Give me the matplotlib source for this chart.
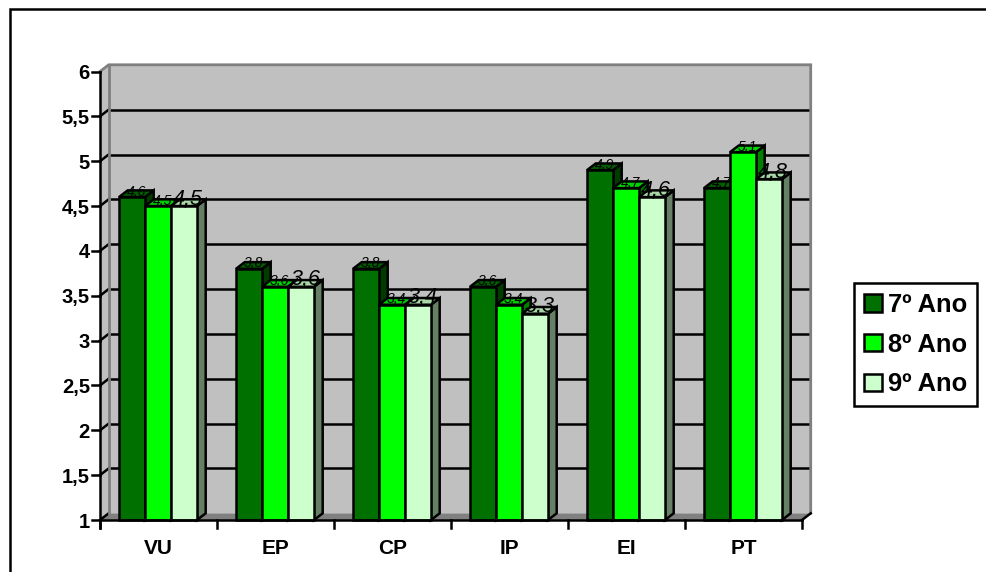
import matplotlib
matplotlib.use('Agg')
import matplotlib.pyplot as plt
import matplotlib.patches as patches

plt.rcParams['font.family'] = ['Liberation Sans', 'DejaVu Sans']

W, H = 987, 572

categories = ['VU', 'EP', 'CP', 'IP', 'EI', 'PT']
series_names = ['7º Ano', '8º Ano', '9º Ano']
ano7 = [4.6, 3.8, 3.8, 3.6, 4.9, 4.7]
ano8 = [4.5, 3.6, 3.4, 3.4, 4.7, 5.1]
ano9 = [4.5, 3.6, 3.4, 3.3, 4.6, 4.8]
yticks = [1, 1.5, 2, 2.5, 3, 3.5, 4, 4.5, 5, 5.5, 6]
ytick_labels = ['1', '1,5', '2', '2,5', '3', '3,5', '4', '4,5', '5', '5,5', '6']

colors = ['#007000', '#00ff00', '#ccffcc']
top_colors = ['#006000', '#00d000', '#a8d8a8']
side_colors = ['#003c00', '#007f00', '#668066']
label_sizes = [10, 10, 15.5]

fig = plt.figure(figsize=(W / 100, H / 100), dpi=100)
# front plane of the 3D box
ax = fig.add_axes([100 / W, 1 - 520 / H, 702 / W, 448.5 / H])
ax.set_xlim(0, 6)
ax.set_ylim(1, 6)
ax.axis('off')

px = 1 / 117
py = 1 / 89.7
dx = 8.7 * px
dy = 6.7 * py
bar_w = 26 * px
gap = 19 * px
LW = 1.8


def poly(xs, ys, fc, ec='black', lw=LW, z=2):
    ax.fill(xs, ys, facecolor=fc, edgecolor=ec, linewidth=lw, clip_on=False,
            zorder=z, joinstyle='miter')


# walls
poly([dx, 6 + dx, 6 + dx, dx], [1 + dy, 1 + dy, 6 + dy, 6 + dy], '#c0c0c0', ec='none', lw=0, z=1)
poly([0, dx, dx, 0], [1, 1 + dy, 6 + dy, 6], '#c0c0c0', ec='none', lw=0, z=1)
poly([0, 6, 6 + dx, dx], [1, 1, 1 + dy, 1 + dy], '#808080', ec='none', lw=0, z=1)
ax.plot([0, dx, 6 + dx, 6 + dx], [6, 6 + dy, 6 + dy, 1 + dy], color='#808080', lw=2.0,
        clip_on=False, zorder=1.7, solid_joinstyle='miter')
ax.plot([dx, dx], [1 + dy, 6 + dy], color='#808080', lw=2.0, clip_on=False, zorder=1.7)

# gridlines on back wall
for t in yticks[1:-1]:
    ax.plot([dx, 6 + dx], [t + dy, t + dy], color='black', lw=LW, zorder=1.5,
            clip_on=False, solid_capstyle='butt')

# bars
for i in range(len(categories)):
    for j, vals in enumerate([ano7, ano8, ano9]):
        v = vals[i]
        x0 = i + gap + j * bar_w
        x1 = x0 + bar_w
        z = 3 + i + j * 0.1
        poly([x1, x1 + dx, x1 + dx, x1], [1, 1 + dy, v + dy, v], side_colors[j], z=z)
        poly([x0, x1, x1 + dx, x0 + dx], [v, v, v + dy, v + dy], top_colors[j], z=z)
        poly([x0, x1, x1, x0], [1, 1, v, v], colors[j], z=z)
        ax.text((x0 + x1) / 2 + dx / 2, v + 1.5 * py, str(v).replace('.', ','),
                ha='center', va='baseline', fontsize=label_sizes[j], style='italic',
                color='black', zorder=20, clip_on=False)

# axes
ax.plot([0, 0], [1 - 8 * py, 6], color='black', lw=LW, clip_on=False, zorder=30)
ax.plot([0, 6], [1, 1], color='black', lw=LW, clip_on=False, zorder=30)
for t, lab in zip(yticks, ytick_labels):
    ax.plot([-8 * px, 0], [t, t], color='black', lw=LW, clip_on=False, zorder=30)
    if t < 6:
        ax.plot([0, dx], [t, t + dy], color='black', lw=LW, clip_on=False, zorder=1.6)
    ax.text(-10 * px, t, lab, ha='right', va='center_baseline', fontsize=14.5, fontweight='bold',
            clip_on=False)
for k in range(len(categories) + 1):
    ax.plot([k, k], [1 - 8 * py, 1], color='black', lw=LW, clip_on=False, zorder=30)
for k, c in enumerate(categories):
    ax.text(k + 0.5, 1 - 34 * py, c, ha='center', va='baseline', fontsize=15,
            fontweight='bold', clip_on=False)
ax.plot([6, 6 + dx], [1, 1 + dy], color='black', lw=LW, clip_on=False, zorder=2.5)

# outer frame, only left and top edges are in view
fig.add_artist(plt.Line2D([10 / W, 10 / W, 1], [0, 1 - 9 / H, 1 - 9 / H], color='black', lw=1.8,
                          solid_joinstyle='miter'))

# legend
handles = [patches.Patch(facecolor=c, edgecolor='black', linewidth=LW, label=n)
           for c, n in zip(colors, series_names)]
leg = fig.legend(handles=handles, loc='upper left', bbox_to_anchor=(854 / W, 1 - 283 / H),
                 prop={'size': 18.4, 'weight': 'bold'}, frameon=True, fancybox=False,
                 edgecolor='black', framealpha=1, handlelength=0.72, handleheight=0.68,
                 handletextpad=0.25, labelspacing=0.62, borderpad=0.38, borderaxespad=0)
leg.get_frame().set_linewidth(LW)

plt.savefig('out.png', dpi=100)
